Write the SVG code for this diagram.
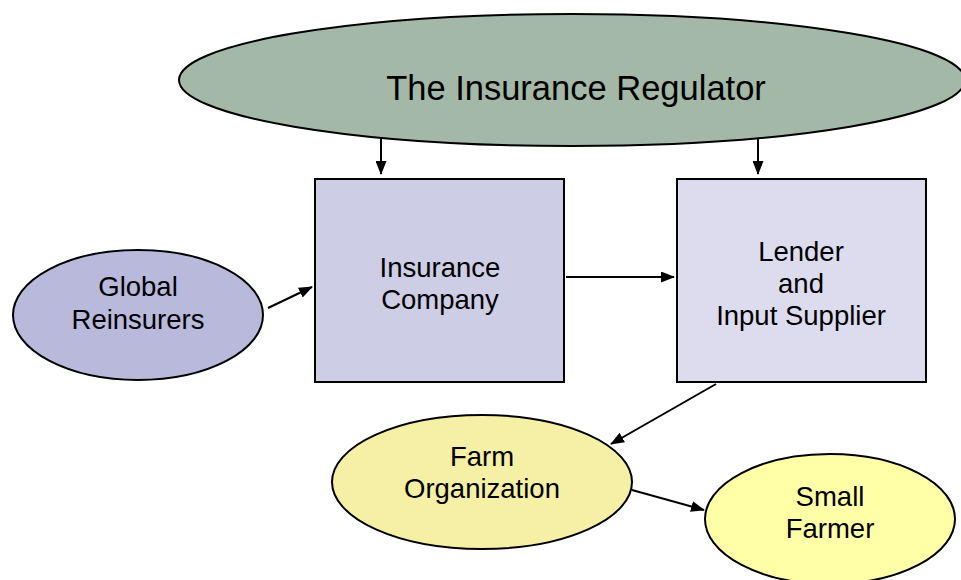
<svg xmlns="http://www.w3.org/2000/svg" width="961" height="580" viewBox="0 0 961 580">
<defs>
<style>
.n{stroke:#000;stroke-width:2}
.t{font-family:"Liberation Sans",Arial,sans-serif;font-size:27.5px;fill:#000;text-anchor:middle}
.c{stroke:#000;stroke-width:2;fill:none;marker-end:url(#ah)}
</style>
<marker id="ah" viewBox="0 0 14 11" refX="13" refY="5.5" markerWidth="14" markerHeight="11" markerUnits="userSpaceOnUse" orient="auto">
<path d="M0,0 L14,5.5 L0,11 Z" fill="#000"/>
</marker>
</defs>
<rect width="961" height="580" fill="#fff"/>
<g id="connectors">
<line class="c" x1="381" y1="136" x2="381" y2="174"/>
<line class="c" x1="758" y1="136" x2="758" y2="174"/>
<line class="c" x1="268" y1="308" x2="312" y2="287"/>
<line class="c" x1="566" y1="277" x2="674" y2="277"/>
<line class="c" x1="716" y1="384" x2="611" y2="444"/>
<line class="c" x1="632" y1="490" x2="704" y2="510"/>
</g>
<g id="regulator">
<ellipse class="n" cx="572" cy="80" rx="393" ry="66" fill="#A4B8A7"/>
<text class="t" x="576" y="100" style="font-size:34.5px">The Insurance Regulator</text>
</g>
<g id="insurance-company">
<rect class="n" x="315" y="179" width="249" height="203" fill="#CDCDE6"/>
<text class="t" x="440" y="277">Insurance</text>
<text class="t" x="440" y="309">Company</text>
</g>
<g id="lender">
<rect class="n" x="677" y="179" width="249" height="203" fill="#DCDCEE"/>
<text class="t" x="801" y="261">Lender</text>
<text class="t" x="801" y="293">and</text>
<text class="t" x="801" y="325">Input Supplier</text>
</g>
<g id="global-reinsurers">
<ellipse class="n" cx="138" cy="315" rx="125" ry="65" fill="#B9B9DC"/>
<text class="t" x="138" y="296">Global</text>
<text class="t" x="138" y="329">Reinsurers</text>
</g>
<g id="farm-organization">
<ellipse class="n" cx="482" cy="482" rx="150" ry="67" fill="#F5F0A6"/>
<text class="t" x="482" y="466">Farm</text>
<text class="t" x="482" y="498">Organization</text>
</g>
<g id="small-farmer">
<ellipse class="n" cx="830" cy="519" rx="125" ry="65" fill="#FFFFA8"/>
<text class="t" x="830" y="506">Small</text>
<text class="t" x="830" y="538">Farmer</text>
</g>
</svg>
